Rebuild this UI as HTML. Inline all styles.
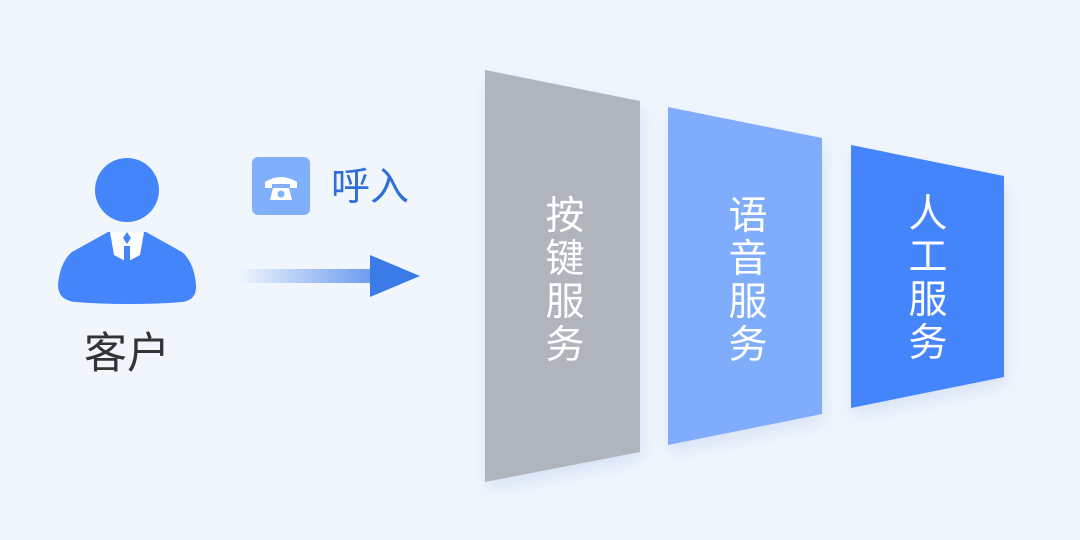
<!DOCTYPE html>
<html><head><meta charset="utf-8"><style>
html,body{margin:0;padding:0;}
body{width:1080px;height:540px;background:#f1f6fd;overflow:hidden;position:relative;font-family:"Liberation Sans","Noto Sans CJK SC",sans-serif;}
.t{position:absolute;color:#fff;font-size:39px;line-height:43px;width:50px;text-align:center;}
</style></head><body>
<svg width="1080" height="540" style="position:absolute;left:0;top:0">
<defs>
<linearGradient id="ag" x1="238" y1="0" x2="420" y2="0" gradientUnits="userSpaceOnUse">
<stop offset="0" stop-color="#3b7be8" stop-opacity="0"/>
<stop offset="1" stop-color="#3b7be8"/>
</linearGradient>
<filter id="sh" x="-20%" y="-20%" width="140%" height="140%"><feGaussianBlur stdDeviation="8"/></filter>
</defs>
<g filter="url(#sh)" opacity="0.25" fill="#8aa8e0">
<polygon points="487,78 642,109 642,460 487,490"/>
<polygon points="670,115 824,146 824,422 670,453"/>
<polygon points="853,153 1006,184 1006,385 853,416"/>
</g>
<polygon points="485,70 640,101 640,452 485,482" fill="#b0b4bc"/>
<polygon points="668,107 822,138 822,414 668,445" fill="#80adfb"/>
<polygon points="851,145 1004,176 1004,377 851,408" fill="#4585fc"/>
<!-- person -->
<circle cx="127" cy="190" r="32" fill="#4585fc"/>
<path d="M108,232 L72,252 Q60,262 58,285 Q58,300 75,302 Q100,304 127,304 Q160,304 182,302 Q197,300 196,285 Q194,262 182,252 L146,232 Z" fill="#4585fc"/>
<path d="M110,232 L144,232 L140,255 L127,262 L114,255 Z" fill="#fff"/>
<polygon points="127,232 131,238 127,244 123,238" fill="#4585fc"/>
<rect x="124" y="246" width="6" height="16" fill="#4585fc"/>
<!-- phone icon -->
<rect x="252" y="157" width="58" height="58" rx="6" fill="#80b0fb"/>
<path d="M265,182 Q281,172 297,182 L297,188 L290,188 L290,184 L272,184 L272,188 L265,188 Z" fill="#fff"/>
<path d="M270,200 L273,188 L289,188 L292,200 Z" fill="#fff"/>
<circle cx="281" cy="194" r="3.5" fill="#80b0fb"/>
<!-- arrow -->
<rect x="238" y="269" width="134" height="14" fill="url(#ag)"/>
<polygon points="370,255 420,276 370,297" fill="#3b7be8"/>
</svg>
<div style="position:absolute;left:84px;top:329px;font-size:43px;color:#333;line-height:50px">客户</div>
<div style="position:absolute;left:331px;top:166px;font-size:39px;color:#2f6fd6;line-height:44px">呼入</div>
<div class="t" style="left:540px;top:195px">按<br>键<br>服<br>务</div>
<div class="t" style="left:723px;top:195px">语<br>音<br>服<br>务</div>
<div class="t" style="left:903px;top:193px">人<br>工<br>服<br>务</div>
</body></html>
